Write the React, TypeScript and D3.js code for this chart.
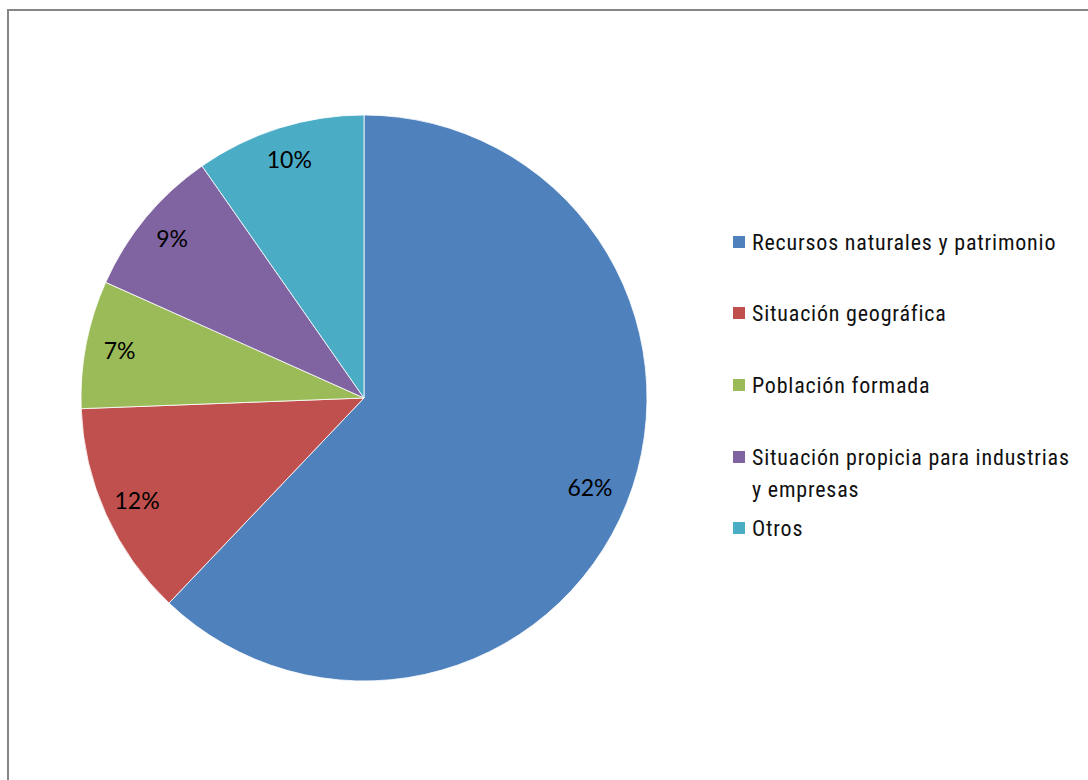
import * as d3 from "d3";
import { useEffect, useRef } from "react";

const categories = [
  "Recursos naturales y patrimonio",
  "Situación geográfica",
  "Población formada",
  "Situación propicia para industrias y empresas",
  "Otros",
];
const values = [62.1, 12.3, 7.3, 8.6, 9.7];
const colors = ["#4F81BD", "#C0504D", "#9BBB59", "#8064A2", "#4BACC6"];
// legend lines (wrapped as in the original)
const legendLines = [
  ["Recursos naturales y patrimonio"],
  ["Situación geográfica"],
  ["Población formada"],
  ["Situación propicia para industrias", "y empresas"],
  ["Otros"],
];

type Slice = { name: string; value: number; color: string };

const App = () => {
  const svgRef = useRef<SVGSVGElement | null>(null);

  useEffect(() => {
    const width = 1088;
    const height = 780;
    const cx = 364;
    const cy = 398;
    const radius = 283;

    const svg = d3.select(svgRef.current);
    svg.selectAll("*").remove();
    svg.attr("width", width).attr("height", height);

    svg
      .append("rect")
      .attr("x", 0)
      .attr("y", 0)
      .attr("width", width)
      .attr("height", height)
      .style("fill", "white");

    // chart area frame (right/bottom run off the page)
    svg
      .append("rect")
      .attr("x", 8)
      .attr("y", 10)
      .attr("width", width + 20)
      .attr("height", height + 20)
      .style("fill", "none")
      .style("stroke", "#868686")
      .style("stroke-width", "2px");

    const data: Slice[] = categories.map((c, i) => ({
      name: c,
      value: values[i],
      color: colors[i],
    }));

    const pie = d3
      .pie<Slice>()
      .value((d) => d.value)
      .sort(null);
    const arcs = pie(data);

    const arc = d3.arc<d3.PieArcDatum<Slice>>().innerRadius(0).outerRadius(radius);
    const labelArc = d3
      .arc<d3.PieArcDatum<Slice>>()
      .innerRadius(radius * 0.88)
      .outerRadius(radius * 0.88);
    const bigLabelArc = d3
      .arc<d3.PieArcDatum<Slice>>()
      .innerRadius(radius * 0.86)
      .outerRadius(radius * 0.86);

    const g = svg.append("g").attr("transform", `translate(${cx}, ${cy})`);

    g.selectAll("path")
      .data(arcs)
      .enter()
      .append("path")
      .attr("d", arc)
      .style("fill", (d) => d.data.color)
      .style("stroke", "#ffffff")
      .style("stroke-width", "0.8px");

    const fmt = d3.format(".0f");
    g.selectAll("text.lbl")
      .data(arcs)
      .enter()
      .append("text")
      .attr("class", "lbl")
      .attr("transform", (d) => {
        const [x, y] = d.index === 0 ? bigLabelArc.centroid(d) : labelArc.centroid(d);
        return `translate(${x}, ${y})`;
      })
      .attr("text-anchor", "middle")
      .attr("dy", "0.35em")
      .style("font-family", "Lato, 'Open Sans', sans-serif")
      .style("font-size", "23px")
      .style("fill", "#000")
      .text((d) => `${fmt(d.data.value)}%`);

    // legend
    const legendX = 733;
    const rowY = [242, 313, 385, 457, 528];
    const lineH = 32;
    const legend = svg.append("g");
    legendLines.forEach((lines, i) => {
      legend
        .append("rect")
        .attr("x", legendX)
        .attr("y", rowY[i] - 6)
        .attr("width", 12)
        .attr("height", 12)
        .style("fill", colors[i]);
      lines.forEach((ln, j) => {
        legend
          .append("text")
          .attr("x", legendX + 19)
          .attr("y", rowY[i] + j * lineH)
          .attr("dy", "0.35em")
          .style("font-family", "'Roboto Condensed', 'Liberation Sans Narrow', sans-serif")
          .style("font-size", "22px")
          .style("letter-spacing", "0.8px")
          .style("font-weight", "400")
          .style("fill", "#111")
          .text(ln);
      });
    });
  }, []);

  return (
    <svg
      ref={svgRef}
      style={{ position: "absolute", left: 0, top: 0, display: "block" }}
    />
  );
};

export default App;
